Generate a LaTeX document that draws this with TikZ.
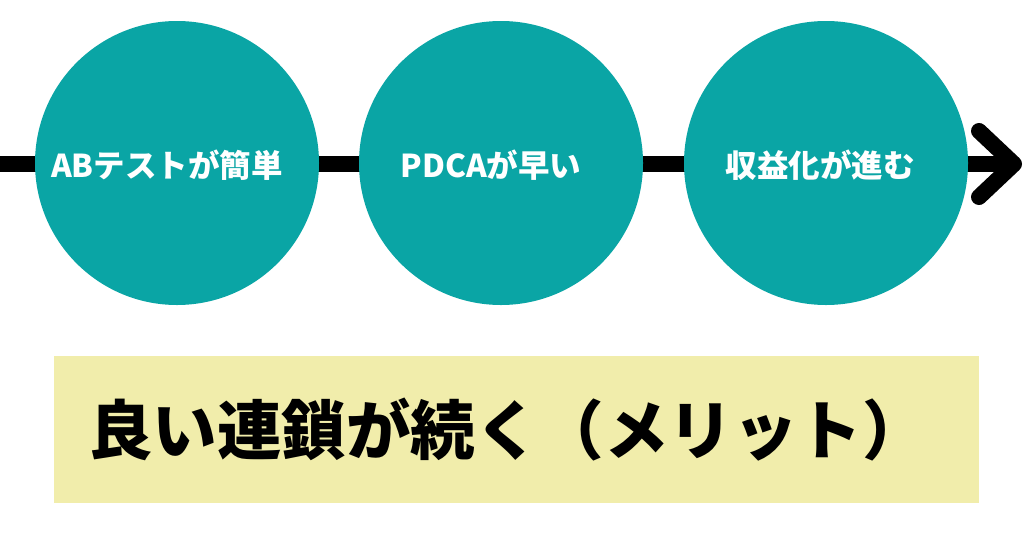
\documentclass[tikz,border=0pt]{standalone}
\usepackage{fontspec}
\newfontfamily\cjk{Noto Sans CJK JP}
\definecolor{tealc}{RGB}{10,165,165}
\definecolor{yellowc}{RGB}{241,237,171}
\begin{document}
\begin{tikzpicture}[x=1pt,y=-1pt,
  stepcircle/.style={circle,fill=tealc,minimum size=284pt,inner sep=0pt},
  steplabel/.style={text=white,font=\cjk\bfseries\fontsize{31.5}{36}\selectfont,inner sep=0pt},
  flowline/.style={line width=16pt,black},
  chevron/.style={line width=16pt,black,line cap=round,line join=round}]
\useasboundingbox (0,0) rectangle (1024,536);
\fill[white] (0,0) rectangle (1024,536);
\coordinate (start) at (-10,164);
\coordinate (tip) at (1014,164);
\coordinate (armtop) at (979,131);
\coordinate (armbot) at (979,197);
\draw[flowline] (start) -- (tip);
\draw[chevron] (armtop) -- (tip) -- (armbot);
\node[stepcircle] (c1) at (177,163) {};
\node[stepcircle] (c2) at (501,163) {};
\node[stepcircle] (c3) at (826,163) {};
\node[steplabel] (t1) at (167,165) {ABテストが簡単};
\node[steplabel] (t2) at (491,165) {PDCAが早い};
\node[steplabel] (t3) at (820,165) {収益化が進む};
\node[fill=yellowc,minimum width=925pt,minimum height=147pt,inner sep=0pt,anchor=north west] (box) at (54,356) {};
\node[anchor=west,inner sep=0pt,font=\cjk\bfseries\fontsize{64.5}{72}\selectfont] (result) at (88,430) {良い連鎖が続く（メリット）};
\end{tikzpicture}
\end{document}
